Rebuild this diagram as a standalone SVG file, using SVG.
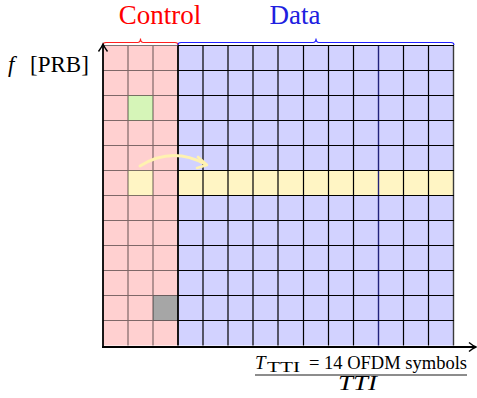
<svg xmlns="http://www.w3.org/2000/svg" width="477" height="398" viewBox="0 0 477 398">
  <style>
    .lbl { font-family: "Liberation Serif", "Times New Roman", serif; }
    .ctl { stroke: #000; stroke-opacity: 0.5; stroke-width: 1.2; fill: none; }
    .dat { stroke: #000; stroke-width: 1.2; fill: none; }
    .axis { stroke: #000; stroke-width: 1.8; fill: none; }
  </style>
  <rect width="477" height="398" fill="#fff"/>

  <!-- control region: 3 symbols -->
  <g id="control-region">
    <rect x="103" y="45.5" width="75" height="300" fill="#ffd0d0"/>
    <rect x="128" y="95.5" width="25" height="25" fill="#d6f5b8"/>
    <rect x="128" y="170.5" width="25" height="25" fill="#fff5c4"/>
    <rect x="153" y="295.5" width="25" height="25" fill="#a6a6a6"/>
    <path class="ctl" d="M128,45.5V345.5M153,45.5V345.5
      M103,45.5H178M103,70.5H178M103,95.5H178M103,120.5H178M103,145.5H178M103,170.5H178
      M103,195.5H178M103,220.5H178M103,245.5H178M103,270.5H178M103,295.5H178M103,320.5H178"/>
  </g>

  <!-- data region: 11 symbols -->
  <g id="data-region">
    <rect x="178" y="45.5" width="276" height="300" fill="#d2d2ff"/>
    <rect x="178" y="170.5" width="276" height="25" fill="#fff5c4"/>
    <path class="dat" d="M203,45.5V345.5M228,45.5V345.5M253,45.5V345.5M278,45.5V345.5M303.5,45.5V345.5
      M328.5,45.5V345.5M353.5,45.5V345.5M403.5,45.5V345.5M428.5,45.5V345.5"/>
    <path d="M378.5,45.5V345.5" stroke="#22227a" stroke-width="1.4"/>
    <path d="M453.5,45.5V345.5" stroke="#3a3a3a" stroke-width="1.4"/>
    <path class="dat" d="M178,45.5H454M178,70.5H454M178,95.5H454M178,120.5H454M178,145.5H454M178,170.5H454
      M178,195.5H454M178,220.5H454M178,245.5H454M178,270.5H454M178,295.5H454M178,320.5H454"/>
    <path d="M178,45.5V345.5" stroke="#000" stroke-width="1.8"/>
  </g>

  <!-- braces and headings -->
  <g id="control-brace">
    <path d="M103,45 Q103,42.5 106,42.5 H137.5 Q140.5,42.5 140.5,38.5 Q140.5,42.5 143.5,42.5 H175 Q178,42.5 178,45" fill="none" stroke="#ff2020" stroke-width="1.1"/>
    <text class="lbl" x="160" y="24" font-size="27" fill="#ff0000" text-anchor="middle">Control</text>
  </g>
  <g id="data-brace">
    <path d="M178,45 Q178,42.5 181,42.5 H313 Q316,42.5 316,38.5 Q316,42.5 319,42.5 H451 Q454,42.5 454,45" fill="none" stroke="#2020ff" stroke-width="1.1"/>
    <text class="lbl" x="295" y="24" font-size="27" fill="#2020e0" text-anchor="middle">Data</text>
  </g>

  <!-- axes -->
  <g id="axes">
    <path class="axis" d="M103,347V45"/>
    <path d="M98.5,51.5 Q101.5,47.5 103,44 Q104.5,47.5 107.5,51.5" fill="none" stroke="#000" stroke-width="1.4"/>
    <path class="axis" d="M102,347H475"/>
    <path d="M469,342.5 Q472.5,345.5 476,347 Q472.5,348.5 469,351.5" fill="none" stroke="#000" stroke-width="1.4"/>
    <text class="lbl" x="8" y="72" font-size="23"><tspan font-style="italic">f</tspan><tspan x="30">[PRB]</tspan></text>
  </g>

  <!-- reassignment arrow -->
  <g id="connectors">
    <path d="M140,166 Q172,146 205,164" fill="none" stroke="#fff2b0" stroke-width="3" stroke-linecap="round"/>
    <path d="M198,157 L207,165 L197,168" fill="none" stroke="#fff2b0" stroke-width="2.6" stroke-linecap="round" stroke-linejoin="round"/>
  </g>

  <!-- time axis label -->
  <g id="time-label">
    <text class="lbl" x="255" y="369" font-size="19" font-style="italic">T</text>
    <text class="lbl" x="267" y="371.5" font-size="15.5" textLength="33" lengthAdjust="spacingAndGlyphs">TTI</text>
    <text class="lbl" x="309" y="369" font-size="18" textLength="158" lengthAdjust="spacingAndGlyphs">= 14 OFDM symbols</text>
    <path d="M255,375H467" stroke="#000" stroke-width="0.9"/>
    <text class="lbl" x="338" y="390" font-size="20.5" font-style="italic" textLength="39" lengthAdjust="spacingAndGlyphs">TTI</text>
  </g>
</svg>
